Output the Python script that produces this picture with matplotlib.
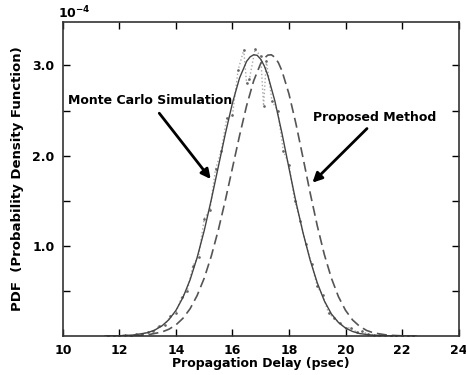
import matplotlib
matplotlib.use("Agg")
import matplotlib.pyplot as plt
from matplotlib.ticker import FixedLocator, FuncFormatter

# Fitted PDF (solid), values in units of 1e-4
fit_x = [11.5, 12.0, 12.5, 13.0, 13.25, 13.5, 13.75, 14.0, 14.25, 14.5, 14.75,
         15.0, 15.25, 15.5, 15.75, 16.0, 16.25, 16.5, 16.625, 16.75, 16.875, 17.0,
         17.125, 17.25, 17.5, 17.75, 18.0, 18.25, 18.5, 18.75, 19.0, 19.25, 19.5,
         19.75, 20.0, 20.25, 20.5, 21.0, 21.5, 22.0, 22.5]
fit_y = [0.001, 0.003, 0.011, 0.037, 0.066, 0.111, 0.181, 0.284, 0.429, 0.623, 0.870,
         1.168, 1.510, 1.878, 2.245, 2.584, 2.860, 3.045, 3.095, 3.118, 3.112, 3.068,
         2.995, 2.890, 2.606, 2.250, 1.861, 1.480, 1.140, 0.840, 0.590, 0.390, 0.245,
         0.150, 0.088, 0.050, 0.027, 0.007, 0.002, 0.001, 0.0]

# Proposed method (dashed)
prop_x = [12.5, 13.0, 13.5, 13.75, 14.0, 14.25, 14.5, 14.75, 15.0, 15.25, 15.5,
          15.75, 16.0, 16.25, 16.5, 16.75, 17.0, 17.125, 17.25, 17.375, 17.5, 17.625,
          17.75, 18.0, 18.25, 18.5, 18.75, 19.0, 19.25, 19.5, 19.75, 20.0, 20.25,
          20.5, 20.75, 21.0, 21.5, 22.0]
prop_y = [0.004, 0.013, 0.044, 0.075, 0.123, 0.197, 0.302, 0.449, 0.641, 0.885, 1.176,
          1.508, 1.864, 2.221, 2.553, 2.829, 3.023, 3.080, 3.114, 3.118, 3.090, 3.030,
          2.941, 2.683, 2.348, 1.970, 1.585, 1.223, 0.904, 0.642, 0.436, 0.285, 0.178,
          0.107, 0.061, 0.034, 0.009, 0.002]

# Monte Carlo histogram (dotted)
mc_x = [11.6, 11.8, 12.0, 12.2, 12.4, 12.6, 12.8, 13.0, 13.2, 13.4, 13.6, 13.8,
        14.0, 14.2, 14.4, 14.6, 14.8, 15.0, 15.2, 15.4, 15.6, 15.8, 16.0, 16.2,
        16.4, 16.5, 16.6, 16.8, 17.0, 17.1, 17.2, 17.4, 17.6, 17.8, 18.0, 18.2,
        18.4, 18.6, 18.8, 19.0, 19.2, 19.4, 19.6, 19.8, 20.0, 20.2, 20.4, 20.6,
        20.8, 21.0, 21.2, 21.4, 21.6, 21.8, 22.0, 22.2, 22.4]
mc_y = [0.002, 0.004, 0.0, 0.012, 0.004, 0.02, 0.018, 0.045, 0.05, 0.11, 0.12, 0.22,
        0.26, 0.43, 0.50, 0.78, 0.88, 1.30, 1.40, 1.85, 2.05, 2.42, 2.45, 2.95,
        3.17, 2.80, 2.85, 3.18, 3.10, 2.55, 3.05, 2.60, 2.50, 2.05, 1.90, 1.50,
        1.28, 1.02, 0.80, 0.55, 0.45, 0.25, 0.20, 0.14, 0.09, 0.09, 0.04, 0.05,
        0.02, 0.015, 0.01, 0.006, 0.0, 0.004, 0.002, 0.0, 0.001]

fig = plt.figure(figsize=(4.66, 3.75), dpi=100)
ax = fig.add_axes([0.135, 0.104, 0.849, 0.837])

ax.plot(mc_x, mc_y, color="#aaaaaa", linestyle=":", linewidth=1.0,
        marker=".", markersize=1.8, markeredgecolor="#666666", markerfacecolor="#666666")
ax.plot(fit_x, fit_y, color="#444444", linewidth=1.0)
ax.plot(prop_x, prop_y, color="#555555", linewidth=1.2, dashes=(6, 3))

ax.set_xlim(10, 24)
ax.set_ylim(0, 3.48)
ax.set_xticks(range(10, 25, 2))
ax.yaxis.set_major_locator(FixedLocator([0.5, 1.0, 1.5, 2.0, 2.5, 3.0]))
ax.yaxis.set_major_formatter(FuncFormatter(
    lambda v, p: "%.1f" % v if abs(v - round(v)) < 1e-6 else ""))
ax.tick_params(direction="in", length=5, width=1, top=True, right=True,
               labelsize=9, pad=6)
for lbl in ax.get_xticklabels() + ax.get_yticklabels():
    lbl.set_fontweight("bold")
for sp in ax.spines.values():
    sp.set_linewidth(1.2)
    sp.set_color("#333333")

ax.set_xlabel("Propagation Delay (psec)", fontsize=9, fontweight="bold", labelpad=0)
ax.set_ylabel("PDF  (Probability Density Function)", fontsize=9.5, fontweight="bold",
              labelpad=6)
fig.text(0.125, 0.965, r"10$^{\mathbf{-4}}$", fontsize=9, fontweight="bold",
         ha="left", va="center")

arrow = dict(arrowstyle="-|>", color="black", lw=2, mutation_scale=14,
             shrinkA=0, shrinkB=0)
ax.text(10.18, 2.61, "Monte Carlo Simulation", fontsize=9, fontweight="bold",
        ha="left", va="center")
ax.annotate("", xy=(15.23, 1.74), xytext=(13.41, 2.47), arrowprops=arrow)
ax.text(21.04, 2.42, "Proposed Method", fontsize=9, fontweight="bold",
        ha="center", va="center")
ax.annotate("", xy=(18.83, 1.70), xytext=(20.76, 2.30), arrowprops=arrow)

fig.savefig("out.png", dpi=100)
